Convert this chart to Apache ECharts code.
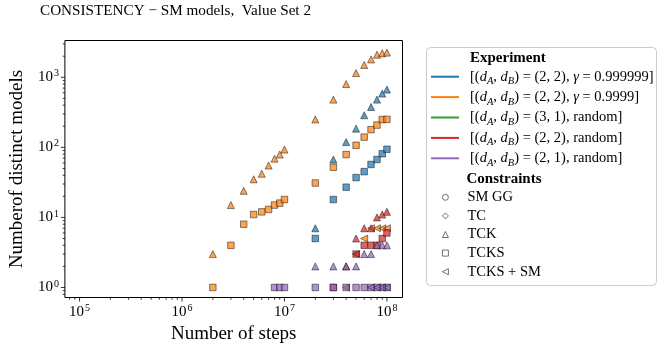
<!DOCTYPE html>
<html><head><meta charset="utf-8">
<script src="https://cdn.jsdelivr.net/npm/echarts@6/dist/echarts.min.js"></script>
<style>html,body{margin:0;padding:0;background:#fff}#c{width:664px;height:349px}</style>
</head><body><div id="c"></div>
<script>
// ---------- data ----------
const blueTCK_x = [2e7,3e7,4e7,5e7,6e7,7e7,8e7,9e7,1e8];
const blueTCK_y = [7,67,119,185,287,377,480,585,667];
const blueTCKS_x = [2e7,3e7,4e7,5e7,6e7,7e7,8e7,9e7,1e8];
const blueTCKS_y = [5,18,27,37,45,57,67,81,94];
const orangeTCK_x = [2e6,3e6,4e6,5e6,6e6,7e6,8e6,9e6,1e7,2e7,3e7,4e7,5e7,6e7,7e7,8e7,9e7,1e8];
const orangeTCK_y = [3,15,24,35,42,55,69,79,93,250,480,800,1150,1500,1800,2100,2200,2250];
const orangeTCKS_x = [2e6,3e6,4e6,5e6,6e6,7e6,8e6,9e6,1e7,2e7,3e7,4e7,5e7,6e7,7e7,8e7,9e7,1e8];
const orangeTCKS_y = [1,4,8,11,12,13,15,16,18,31,52,79,107,140,179,208,249,251];
const orangeSM_x = [6e7,7e7,8e7,9e7,1e8];
const orangeSM_y = [5,7,7,7,7];
const redTCK_x = [4e7,5e7,6e7,7e7,8e7,9e7,1e8];
const redTCK_y = [2,5,7,7,10,11,12];
const redTCKS_x = [3e7,5e7,6e7,7e7,8e7,9e7,1e8];
const redTCKS_y = [1,3,4,4,4,5,6];
const redSM_x = [4e7,5e7];
const redSM_y = [1,3];
const purpleTCK_x = [2e7,3e7,4e7,5e7,6e7,7e7,8e7,9e7,1e8];
const purpleTCK_y = [2,2,2,2,3,3,4,4,4];
const purpleTCKS_x = [8e6,9e6,1e7,2e7,3e7,4e7,5e7,6e7,7e7,8e7,9e7,1e8];
const purpleTCKS_y = [1,1,1,1,1,1,1,1,1,1,1,1];
const purpleSM_x = [7e7,8e7,9e7,1e8];
const purpleSM_y = [1,1,1,1];

const experimentNames = ['e1','e2','e3','e4','e5'];
const experimentLabels = [
  '{n|[(}{i|d}{s|A}{n|, }{i|d}{s|B}{n|) = (2, 2), }{i|γ}{n| = 0.999999]}',
  '{n|[(}{i|d}{s|A}{n|, }{i|d}{s|B}{n|) = (2, 2), }{i|γ}{n| = 0.9999]}',
  '{n|[(}{i|d}{s|A}{n|, }{i|d}{s|B}{n|) = (3, 1), random]}',
  '{n|[(}{i|d}{s|A}{n|, }{i|d}{s|B}{n|) = (2, 2), random]}',
  '{n|[(}{i|d}{s|A}{n|, }{i|d}{s|B}{n|) = (2, 1), random]}'
];
const experimentColors = ['#1f77b4','#ff7f0e','#2ca02c','#d62728','#9467bd'];
const constraintNames = ['SM GG','TC','TCK','TCKS','TCKS + SM'];
const leftTri = 'path://M0,5 L10,0 L10,10 Z';
const constraintIcons = ['circle','diamond','triangle','rect',leftTri];

const xMajorTicks = [1e5,1e6,1e7,1e8];
const xMinorTicks = [8e4,9e4,2e5,3e5,4e5,5e5,6e5,7e5,8e5,9e5,2e6,3e6,4e6,5e6,6e6,7e6,8e6,9e6,2e7,3e7,4e7,5e7,6e7,7e7,8e7,9e7];
const yMajorTicks = [1,10,100,1000];
const yMinorTicks = [0.8,0.9,2,3,4,5,6,7,8,9,20,30,40,50,60,70,80,90,200,300,400,500,600,700,800,900,2000,3000];

const FONT = 'Liberation Serif';
const X_MIN = Math.pow(10, 4.857), X_MAX = Math.pow(10, 8.152);
const Y_MIN = Math.pow(10, -0.143), Y_MAX = Math.pow(10, 3.525);

function zip(xs, ys){ return xs.map((x,i)=>[x, ys[i]]); }
function sc(name, xs, ys, color, symbol, size){
  return {type:'scatter', name:name, data:zip(xs,ys), symbol:symbol, symbolSize:size,
    itemStyle:{color:color, opacity:0.72, borderColor:'#111', borderWidth:0.7}, silent:true, z:3};
}
function powLabel(v){
  const l = Math.log10(v), e = Math.round(l);
  if (Math.abs(l-e) > 1e-6) return '';
  return '{b|10}{sup|' + e + '}';
}
const labelRich = {
  b:{fontFamily:FONT, fontSize:15, color:'#000', lineHeight:17},
  sup:{fontFamily:FONT, fontSize:10, color:'#000', verticalAlign:'top', lineHeight:9, padding:[0,0,0,1]}
};

function xTick(len){ return function(params, api){
  const x = api.coord([api.value(0), 1])[0]; const cs = params.coordSys; const y0 = cs.y + cs.height;
  return {type:'line', shape:{x1:x, y1:y0, x2:x, y2:y0+len}, style:{stroke:'#000', lineWidth:0.8}};
};}
function yTick(len){ return function(params, api){
  const y = api.coord([1e6, api.value(1)])[1]; const cs = params.coordSys; const x0 = cs.x;
  return {type:'line', shape:{x1:x0, y1:y, x2:x0-len, y2:y}, style:{stroke:'#000', lineWidth:0.8}};
};}

const series = [
  sc('b-tck', blueTCK_x, blueTCK_y, '#1f77b4', 'triangle', 7),
  sc('b-tcks', blueTCKS_x, blueTCKS_y, '#1f77b4', 'rect', 6.5),
  sc('o-tck', orangeTCK_x, orangeTCK_y, '#ff7f0e', 'triangle', 7),
  sc('o-tcks', orangeTCKS_x, orangeTCKS_y, '#ff7f0e', 'rect', 6.5),
  sc('o-sm', orangeSM_x, orangeSM_y, '#ff7f0e', leftTri, 7),
  sc('r-tck', redTCK_x, redTCK_y, '#d62728', 'triangle', 7),
  sc('r-tcks', redTCKS_x, redTCKS_y, '#d62728', 'rect', 6.5),
  sc('r-sm', redSM_x, redSM_y, '#d62728', leftTri, 7),
  sc('p-tck', purpleTCK_x, purpleTCK_y, '#9467bd', 'triangle', 7),
  sc('p-tcks', purpleTCKS_x, purpleTCKS_y, '#9467bd', 'rect', 6.5),
  sc('p-sm', purpleSM_x, purpleSM_y, '#9467bd', leftTri, 7),
  {type:'custom', silent:true, clip:false, renderItem:xTick(4), data:xMajorTicks.map(v=>[v,1]), encode:{x:0,y:1}},
  {type:'custom', silent:true, clip:false, renderItem:xTick(2.2), data:xMinorTicks.map(v=>[v,1]), encode:{x:0,y:1}},
  {type:'custom', silent:true, clip:false, renderItem:yTick(4), data:yMajorTicks.map(v=>[1e6,v]), encode:{x:0,y:1}},
  {type:'custom', silent:true, clip:false, renderItem:yTick(2.2), data:yMinorTicks.map(v=>[1e6,v]), encode:{x:0,y:1}}
];
experimentNames.forEach((n,i)=>series.push({type:'line', name:n, data:[], color:experimentColors[i], symbol:'none'}));
constraintNames.forEach((n,i)=>series.push({type:'scatter', name:n, data:[], symbol:constraintIcons[i], color:'#333'}));

const mathRich = {
  n:{fontFamily:FONT, fontSize:14.5, lineHeight:20.4, color:'#000'},
  i:{fontFamily:FONT, fontSize:14.5, fontStyle:'italic', lineHeight:20.4, color:'#000'},
  s:{fontFamily:FONT, fontSize:10.5, fontStyle:'italic', lineHeight:13.5, verticalAlign:'bottom', color:'#000'}
};

const option = {
  animation:false,
  backgroundColor:'#fff',
  textStyle:{fontFamily:FONT},
  title:{text:'CONSISTENCY − SM models,  Value Set 2', left:40, top:4, padding:0,
    textStyle:{fontFamily:FONT, fontSize:15.2, fontWeight:'normal', color:'#000'}},
  grid:{left:57, right:261.5, top:40.5, bottom:51.5, show:true, borderColor:'#000', borderWidth:1, backgroundColor:'transparent'},
  xAxis:{type:'log', logBase:10, min:X_MIN, max:X_MAX,
    name:'Number of steps', nameLocation:'middle', nameGap:22,
    nameTextStyle:{fontFamily:FONT, fontSize:19, color:'#000'},
    axisLine:{show:false}, axisTick:{show:false}, splitLine:{show:false}, minorTick:{show:false},
    axisLabel:{formatter:powLabel, margin:6, fontFamily:FONT, fontSize:15, color:'#000', rich:labelRich, showMinLabel:false, showMaxLabel:false}},
  yAxis:{type:'log', logBase:10, min:Y_MIN, max:Y_MAX,
    name:'Numberof distinct models', nameLocation:'middle', nameGap:31,
    nameTextStyle:{fontFamily:FONT, fontSize:19, color:'#000'},
    axisLine:{show:false}, axisTick:{show:false}, splitLine:{show:false},
    axisLabel:{formatter:powLabel, margin:6, fontFamily:FONT, fontSize:15, color:'#000', rich:labelRich, showMinLabel:false, showMaxLabel:false}},
  legend:[
    {data:experimentNames.map(n=>({name:n, icon:'rect'})), orient:'vertical', left:431, top:66.5, padding:0,
      itemWidth:28, itemHeight:2, itemGap:0, selectedMode:false, z:10,
      formatter:function(name){ return experimentLabels[experimentNames.indexOf(name)]; },
      textStyle:{fontFamily:FONT, fontSize:14.5, lineHeight:20.4, color:'#000', padding:[0,0,0,6], rich:mathRich}},
    {data:constraintNames.map((n,i)=>({name:n, icon:constraintIcons[i], itemStyle:{color:'rgba(0,0,0,0)', borderColor:'#222', borderWidth:0.8}})),
      orient:'vertical', left:442, top:188, padding:0, itemWidth:6, itemHeight:6, itemGap:0, selectedMode:false, z:10,
      textStyle:{fontFamily:FONT, fontSize:14.5, lineHeight:18.6, color:'#000', padding:[0,0,0,14]}}
  ],
  graphic:[
    {type:'rect', z:1, shape:{x:426.5, y:47.5, width:230, height:238, r:4}, style:{fill:'rgba(255,255,255,0.8)', stroke:'#ccc', lineWidth:1}},
    {type:'text', z:11, x:470, y:58.5, style:{text:'Experiment', fontFamily:FONT, fontSize:15, fontWeight:'bold', fill:'#000', verticalAlign:'middle'}},
    {type:'text', z:11, x:466.5, y:179, style:{text:'Constraints', fontFamily:FONT, fontSize:15, fontWeight:'bold', fill:'#000', verticalAlign:'middle'}}
  ],
  series:series
};
const chart = echarts.init(document.getElementById('c'), null, {renderer:'canvas'});
chart.setOption(option);
</script>
</body></html>
